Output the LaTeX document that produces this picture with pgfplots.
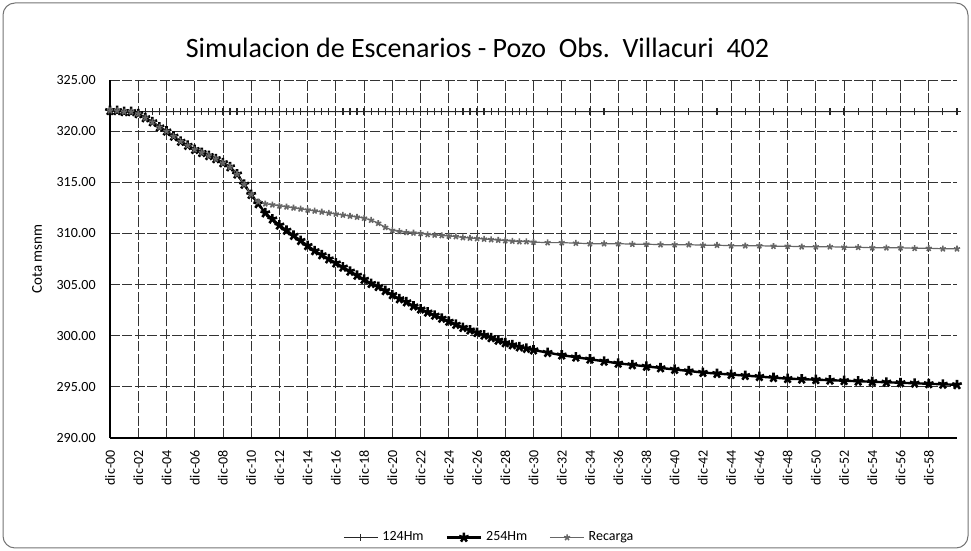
\documentclass[border=0pt]{standalone}
\usepackage{fontspec}
\setmainfont{Carlito}
\usepackage{pgfplots}
\usepackage{pgfplotstable}
\pgfplotsset{compat=1.18}

% yr = years after dic-00; cota msnm for each scenario
\pgfplotstableread{
yr   h124   h254    rec
0    322.0  322.0   322.0
0.5  322.0  322.0   322.0
1    321.9  321.9   321.9
1.5  321.9  321.9   321.9
2    321.9  321.7   321.7
2.5  321.9  321.3   321.3
3    321.9  320.9   320.9
3.5  321.9  320.4   320.4
4    321.9  320.0   320.0
4.5  321.9  319.5   319.5
5    321.9  319.0   319.0
5.5  321.9  318.6   318.6
6    321.9  318.2   318.2
6.5  321.9  317.9   317.9
7    321.9  317.6   317.6
7.5  321.9  317.3   317.3
8    321.9  316.9   316.9
8.5  321.9  316.5   316.5
9    321.9  315.8   315.8
9.5  321.9  314.8   314.8
10   321.9  313.8   313.8
10.5 321.9  312.9   313.1
11   321.9  312.0   312.9
11.5 321.9  311.4   312.8
12   321.9  310.8   312.7
12.5 321.9  310.3   312.6
13   321.9  309.8   312.5
13.5 321.9  309.3   312.4
14   321.9  308.8   312.3
14.5 321.9  308.3   312.2
15   321.9  307.9   312.1
15.5 321.9  307.5   312.0
16   321.9  307.1   311.9
16.5 321.9  306.7   311.8
17   321.9  306.3   311.7
17.5 321.9  305.9   311.6
18   321.9  305.5   311.5
18.5 321.9  305.1   311.3
19   321.9  304.8   311.0
19.5 321.9  304.4   310.6
20   321.9  304.0   310.3
20.5 321.9  303.6   310.2
21   321.9  303.3   310.1
21.5 321.9  302.9   310.05
22   321.9  302.6   310.0
22.5 321.9  302.3   309.9
23   321.9  302.0   309.85
23.5 321.9  301.7   309.8
24   321.9  301.4   309.75
24.5 321.9  301.1   309.7
25   321.9  300.8   309.6
25.5 321.9  300.55  309.55
26   321.9  300.3   309.5
26.5 321.9  300.05  309.45
27   321.9  299.8   309.4
27.5 321.9  299.55  309.35
28   321.9  299.3   309.3
28.5 321.9  299.1   309.25
29   321.9  298.9   309.2
29.5 321.9  298.75  309.2
30   321.9  298.6   309.15
31   321.9  298.35  309.1
32   321.9  298.1   309.1
33   321.9  297.9   309.05
34   321.9  297.7   309.0
35   321.9  297.5   309.0
36   321.9  297.3   309.0
37   321.9  297.15  308.95
38   321.9  297.0   308.95
39   321.9  296.85  308.9
40   321.9  296.7   308.9
41   321.9  296.55  308.9
42   321.9  296.4   308.85
43   321.9  296.3   308.85
44   321.9  296.2   308.8
45   321.9  296.1   308.8
46   321.9  296.0   308.8
47   321.9  295.9   308.75
48   321.9  295.8   308.75
49   321.9  295.75  308.7
50   321.9  295.7   308.7
51   321.9  295.65  308.7
52   321.9  295.6   308.65
53   321.9  295.55  308.65
54   321.9  295.5   308.6
55   321.9  295.45  308.6
56   321.9  295.4   308.6
57   321.9  295.35  308.55
58   321.9  295.3   308.55
59   321.9  295.25  308.5
60   321.9  295.2   308.5
}\datos

\begin{document}
\begin{tikzpicture}
\useasboundingbox (0,0) rectangle (485.5pt,275.5pt);
\draw[black!55, line width=0.5pt, rounded corners=6pt] (1.5pt,1.5pt) rectangle (484pt,274pt);

\begin{axis}[
    at={(55pt,56.5pt)}, anchor=south west,
    scale only axis,
    width=423.5pt, height=179pt,
    xmin=0, xmax=60, ymin=290, ymax=325,
    axis x line*=bottom, axis y line*=left,
    axis line style={black, line width=0.6pt, -},
    xtick={0,2,...,58},
    xticklabels={dic-00,dic-02,dic-04,dic-06,dic-08,dic-10,dic-12,dic-14,dic-16,dic-18,
                 dic-20,dic-22,dic-24,dic-26,dic-28,dic-30,dic-32,dic-34,dic-36,dic-38,
                 dic-40,dic-42,dic-44,dic-46,dic-48,dic-50,dic-52,dic-54,dic-56,dic-58},
    ytick={290,295,...,325},
    major tick length=0pt,
    grid=major,
    grid style={black!80, line width=0.4pt, dash pattern=on 5pt off 1.2pt},
    xticklabel style={rotate=90, anchor=east, inner sep=0pt, font=\fontsize{7}{8}\selectfont},
    xticklabel shift=6pt,
    yticklabel style={anchor=east, inner sep=0pt, font=\fontsize{7}{8}\selectfont},
    yticklabel shift=7pt,
    /pgf/number format/assume math mode=true,
    yticklabel={\pgfmathprintnumber[fixed, fixed zerofill, precision=2]{\tick}},
    ylabel={Cota msnm},
    every axis y label/.style={at={(axis description cs:-0.086,0.5)}, rotate=90, anchor=center, font=\fontsize{7.5}{9}\selectfont},
    title={Simulacion de Escenarios - Pozo\ \ Obs.\ \ Villacuri\ \ 402},
    every axis title/.style={at={(axis description cs:0.434,1.089)}, anchor=center, font=\fontsize{14}{17}\selectfont},
    legend columns=3,
    legend style={at={(axis description cs:0.449,-0.278)}, anchor=center, draw=none, fill=none,
        font=\fontsize{7}{8}\selectfont,
        /tikz/every even column/.append style={column sep=9pt}},
    legend cell align=left,
]
\addplot[black!85, line width=0.5pt, mark=+, mark size=1.8pt, mark options={line width=0.6pt}]
    table[x=yr, y=h124] {\datos};
\addlegendentry{124Hm}
\addplot[black, line width=1.2pt, mark=star, mark size=2.5pt, mark options={line width=1.3pt}]
    table[x=yr, y=h254] {\datos};
\addlegendentry{254Hm}
\addplot[black!60, line width=0.6pt, mark=star, mark size=1.6pt, mark options={line width=0.8pt}]
    table[x=yr, y=rec] {\datos};
\addlegendentry{Recarga}
\end{axis}
\end{tikzpicture}
\end{document}
